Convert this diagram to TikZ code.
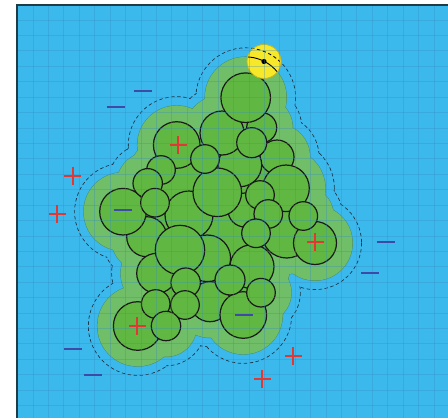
\documentclass[tikz,border=0pt]{standalone}
\definecolor{bg}{RGB}{60,185,236}
\definecolor{halo}{RGB}{112,190,104}
\definecolor{haloedge}{RGB}{70,140,110}
\definecolor{cell}{RGB}{96,184,66}
\definecolor{gridc}{RGB}{50,140,195}
\definecolor{pluscol}{RGB}{226,56,52}
\definecolor{minuscol}{RGB}{62,74,168}
\definecolor{yel}{RGB}{248,232,42}
\definecolor{yeledge}{RGB}{200,182,30}
\definecolor{dashc}{RGB}{30,55,75}
\definecolor{borderc}{RGB}{30,60,72}
\tikzset{
  cellbody/.style={fill=cell,draw=black!90,line width=1.2pt},
  haloring/.style={draw=haloedge,line width=0.9pt},
  halofill/.style={fill=halo},
  dashring/.style={draw=dashc,line width=0.9pt,dash pattern=on 3.4pt off 2.6pt},
  gridline/.style={draw=gridc,line width=0.8pt,opacity=0.32},
  chargeplus/.pic={\draw[pluscol,line width=2pt] (-8.5,0)--(8.5,0) (0,-9)--(0,9);},
  chargeminus/.pic={\draw[minuscol,line width=2pt] (-9,0)--(9,0);}
}
\begin{document}
\begin{tikzpicture}[x=1pt,y=-1pt]
\useasboundingbox (0,0) rectangle (448,418);
\fill[bg] (17,5) rectangle (448,418);
\def\cells{261.7/127.7/15, 277/157/17, 240/165/21.7, 286.7/233/25, 245/210/17,
 286/188.3/23.3, 146.7/236.7/20, 156.7/273.3/20, 189/215/24, 207.3/258.3/23.3,
 252/266.7/22, 210/301.7/20, 176.7/145/23.3, 222/133/22, 123/211.7/23.3,
 315/243/21.5, 243.3/315/23.3, 137.7/326/24.3, 245.7/97.7/24.8, 217.3/192.3/24.3,
 180/250/24.7, 251.7/142.7/15, 205/159/14.3, 161/170/14.3, 147.7/183.3/14.7,
 155/202.7/14.3, 260/195/14.3, 268.3/214/14.3, 303.3/216/14.3, 256/233.3/14.3,
 185.7/282.7/14.7, 230/280/15, 261/292.7/14.3, 155.7/304/14.3, 185/305/14.3,
 166/326/14.7}
% dashed outer contour
\foreach \x/\y/\r in \cells {\pgfmathsetmacro\R{\r+25}\draw[dashring] (\x,\y) circle[radius=\R];}
\foreach \x/\y/\r in \cells {\pgfmathsetmacro\R{\r+24.5}\fill[bg] (\x,\y) circle[radius=\R];}
% halo
\foreach \x/\y/\r in \cells {\pgfmathsetmacro\R{\r+16}\draw[haloring] (\x,\y) circle[radius=\R];}
\foreach \x/\y/\r in \cells {\pgfmathsetmacro\R{\r+16}\fill[halofill] (\x,\y) circle[radius=\R];}
% packed interior
\fill[cell] (245.7,97.7) -- (251.7,142.7) -- (277,157) -- (286,188.3) -- (303.3,216)
  -- (315,243) -- (286.7,233) -- (252,266.7) -- (261,292.7) -- (243.3,315)
  -- (210,301.7) -- (166,326) -- (137.7,326) -- (155.7,304) -- (156.7,273.3)
  -- (146.7,236.7) -- (123,211.7) -- (147.7,183.3) -- (161,170) -- (176.7,145)
  -- (222,133) -- cycle;
% cells
\foreach \x/\y/\r in \cells {\draw[cellbody] (\x,\y) circle[radius=\r];}
% yellow particle
\node[circle,fill=yel,draw=yeledge,line width=0.8pt,minimum size=34pt,inner sep=0pt] (p) at (264,61.5) {};
\begin{scope}
  \clip (p.center) circle[radius=16.6];
  \draw[black,line width=0.9pt] (245.7,97.7) circle[radius=40.8];
  \draw[black,line width=0.8pt,dash pattern=on 3.4pt off 2.6pt] (245.7,97.7) circle[radius=49.8];
\end{scope}
\fill[black] (p.center) circle[radius=2.6];
% grid overlay
\foreach \k in {1,...,27} {\draw[gridline] (17.6+15.42*\k,5) -- (17.6+15.42*\k,418);}
\foreach \k in {1,...,26} {\draw[gridline] (17,4.6+15.42*\k) -- (448,4.6+15.42*\k);}
% border
\draw[borderc,line width=1.6pt] (17,418) -- (17,5) -- (448,5);
% charges
\foreach \x/\y in {178/145, 72.7/175.7, 57.3/214.3, 315/241.7, 137.3/325.7, 293.3/356, 262.3/379.3}
  \pic at (\x,\y) {chargeplus};
\foreach \x/\y in {142.7/90.7, 115.7/106.7, 122.7/210.3, 385.7/241.7, 370/272.7, 244/315.3, 72.7/349.3, 92.7/375.3}
  \pic at (\x,\y) {chargeminus};
\end{tikzpicture}
\end{document}
